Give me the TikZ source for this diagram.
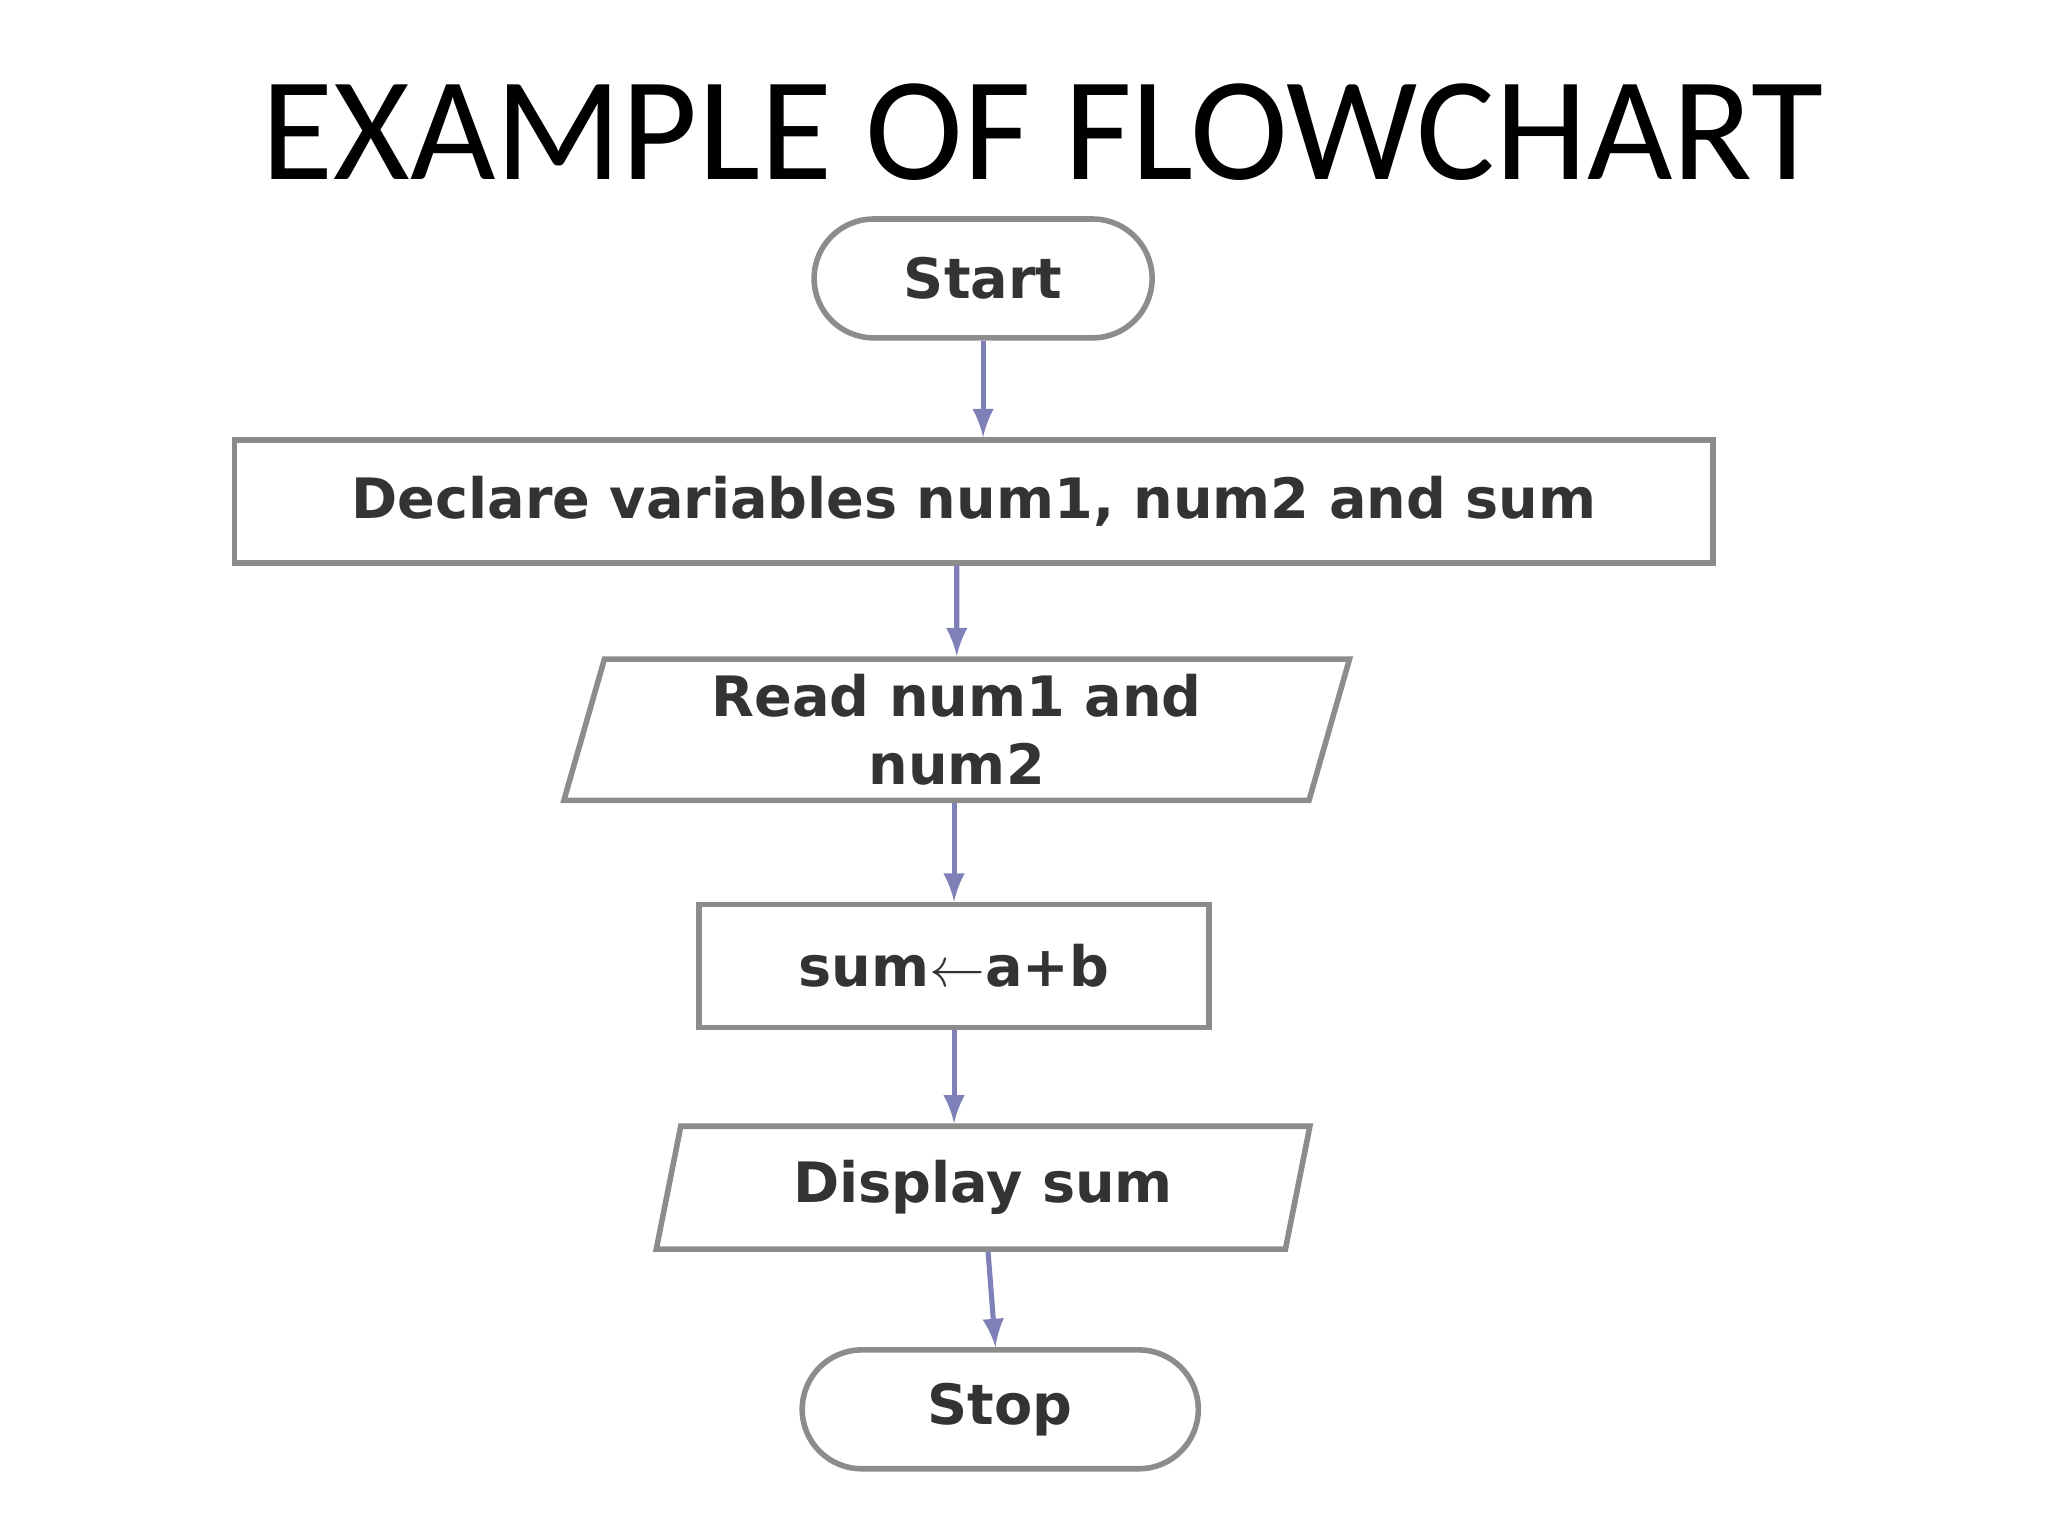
\documentclass[tikz,border=0pt]{standalone}
\usepackage{fontspec}
\setmainfont{DejaVu Sans}
\newfontfamily\titlefont{Carlito}
\usepackage{tikz}
\usetikzlibrary{shapes.geometric}
\usetikzlibrary{arrows}
\usetikzlibrary{positioning}

\tikzset{
  box/.style={draw=black!45, line width=1.2pt, font=\bfseries\fontsize{12}{14.5}\selectfont, text=black!80, align=center},
  terminal/.style={box, rounded corners=0.45cm, minimum height=0.9cm},
  iobox/.style={box, trapezium, trapezium left angle=74, trapezium right angle=106, trapezium stretches body, inner xsep=0pt},
  flow/.style={-latex, draw=black!55!blue!50, line width=1.1pt}
}

\begin{document}
\begin{tikzpicture}[x=0.01cm,y=-0.01cm]
            \useasboundingbox (0,0) rectangle (1552,1164);
            \node[font=\titlefont\fontsize{31.8}{36}\selectfont] (title) at (790,100) {EXAMPLE OF FLOWCHART};

            \node[terminal, minimum width=2.56cm] (start) at (745,211) {Start};
            \node[box, minimum width=11.2cm, minimum height=0.93cm] (declare) at (738,380) {Declare variables num1, num2 and sum};
            \node[iobox, minimum width=5.95cm, minimum height=1.03cm] (read) at (725,553) {Read num1 and\\num2};
            \node[box, minimum width=3.86cm, minimum height=0.93cm] (sum) at (723,732) {sum$\leftarrow$a+b};
            \node[iobox, minimum width=4.95cm, minimum height=0.93cm] (display) at (745,900) {Display sum};
            \node[terminal, minimum width=3.0cm] (stop) at (758,1068) {Stop};

            \draw[flow] (start) -- (declare.north -| start);
            \draw[flow] (declare.south -| read) -- (read);
            \draw[flow] (read.south -| sum) -- (sum);
            \draw[flow] (sum) -- (display.north -| sum);
            \draw[flow] (display) -- (stop);
        \end{tikzpicture}
\end{document}
